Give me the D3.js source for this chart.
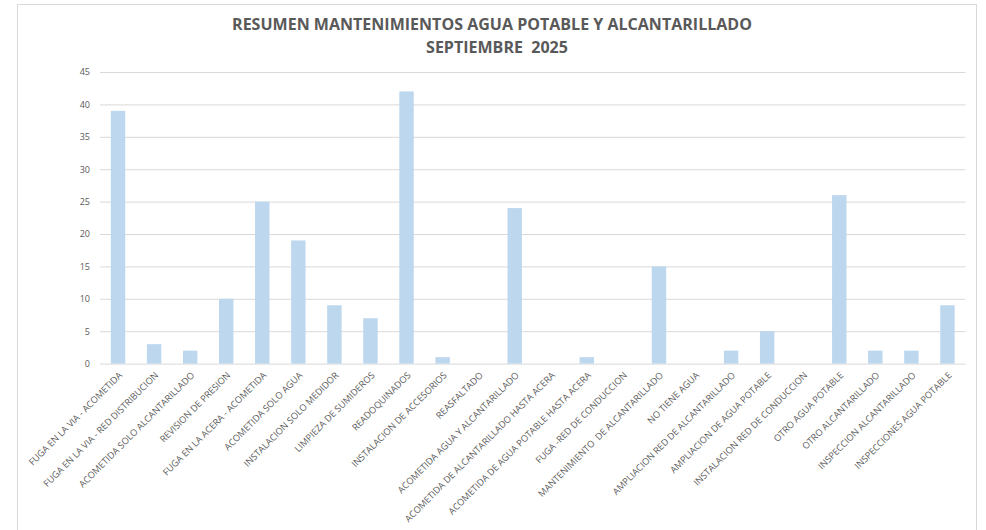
<!DOCTYPE html>
<html><head><meta charset="utf-8">
<script src="https://cdn.jsdelivr.net/npm/d3@7"></script>
<style>
html,body{margin:0;padding:0;background:#fff;}
svg{display:block;}
</style></head>
<body>
<svg id="chart" width="986" height="530"></svg>
<script>
const titleLines = ["RESUMEN MANTENIMIENTOS AGUA POTABLE Y ALCANTARILLADO", "SEPTIEMBRE  2025"];
const categories = [
  "FUGA EN LA VIA - ACOMETIDA",
  "FUGA EN LA VIA - RED DISTRIBUCION",
  "ACOMETIDA SOLO ALCANTARILLADO",
  "REVISION DE PRESION",
  "FUGA EN LA ACERA - ACOMETIDA",
  "ACOMETIDA SOLO AGUA",
  "INSTALACION SOLO MEDIDOR",
  "LIMPIEZA DE SUMIDEROS",
  "READOQUINADOS",
  "INSTALACION DE ACCESORIOS",
  "REASFALTADO",
  "ACOMETIDA AGUA Y ALCANTARILLADO",
  "ACOMETIDA DE ALCANTARILLADO HASTA ACERA",
  "ACOMETIDA DE AGUA POTABLE HASTA ACERA",
  "FUGA -RED DE CONDUCCION",
  "MANTENIMIENTO  DE ALCANTARILLADO",
  "NO TIENE AGUA",
  "AMPLIACION RED DE ALCANTARILLADO",
  "AMPLIACION DE AGUA POTABLE",
  "INSTALACION RED DE CONDUCCION",
  "OTRO AGUA POTABLE",
  "OTRO ALCANTARILLADO",
  "INSPECCION ALCANTARILLADO",
  "INSPECCIONES AGUA POTABLE"
];
const values = [39, 3, 2, 10, 25, 19, 9, 7, 42, 1, 0, 24, 0, 1, 0, 15, 0, 2, 5, 0, 26, 2, 2, 9];
const yTicks = [0, 5, 10, 15, 20, 25, 30, 35, 40, 45];

const svg = d3.select("#chart");
const W = 986, H = 530;
const m = {left: 100, right: 20.5, top: 72, bottom: 166.4};
const plotW = W - m.left - m.right, plotH = H - m.top - m.bottom;

// chart frame
svg.append("rect").attr("x", 17.5).attr("y", 4.5).attr("width", 959).attr("height", 540)
  .attr("fill", "#fff").attr("stroke", "#d9d9d9").attr("stroke-width", 1);

const x = d3.scaleBand().domain(categories).range([m.left, m.left + plotW]).paddingInner(0.6).paddingOuter(0.3);
const y = d3.scaleLinear().domain([0, 45]).range([m.top + plotH, m.top]);

// gridlines
const yAxis = d3.axisLeft(y).tickValues(yTicks).tickSize(-plotW).tickPadding(10);
const gy = svg.append("g").attr("transform", `translate(${m.left},0)`).call(yAxis);
gy.select(".domain").remove();
gy.selectAll(".tick line").attr("stroke", "#d9d9d9").attr("stroke-width", 1);
gy.selectAll(".tick text").attr("fill", "#595959").attr("font-family", "'Open Sans', sans-serif").attr("font-size", "9px");

// bars
svg.append("g").selectAll("rect").data(values).join("rect")
  .attr("x", (d, i) => x(categories[i]))
  .attr("width", x.bandwidth())
  .attr("y", d => y(d))
  .attr("height", d => y(0) - y(d))
  .attr("fill", "#bdd7ee");

// x labels
const gx = svg.append("g");
gx.selectAll("text").data(categories).join("text")
  .attr("transform", d => `translate(${x(d) + x.bandwidth() / 2 + 2.5},${y(0) + 10}) rotate(-45)`)
  .attr("text-anchor", "end")
  .attr("dy", "0.35em")
  .attr("fill", "#595959")
  .attr("font-family", "'Open Sans', sans-serif")
  .attr("font-size", "9.2px")
  .style("white-space", "pre")
  .text(d => d);

// title
const t = svg.append("text").attr("text-anchor", "middle").attr("fill", "#595959")
  .attr("font-family", "'Open Sans', sans-serif").attr("font-weight", "bold").attr("font-size", "14px");
t.selectAll("tspan").data(titleLines).join("tspan")
  .attr("x", (d, i) => i === 0 ? 492 : 497).attr("y", (d, i) => 30 + i * 23)
  .style("white-space", "pre")
  .text(d => d);
// fit first title line width to the reference width (~520px)
const firstLen = t.select("tspan").node().getComputedTextLength();
t.attr("font-size", (14 * 520 / firstLen).toFixed(2) + "px");
</script>
</body></html>
